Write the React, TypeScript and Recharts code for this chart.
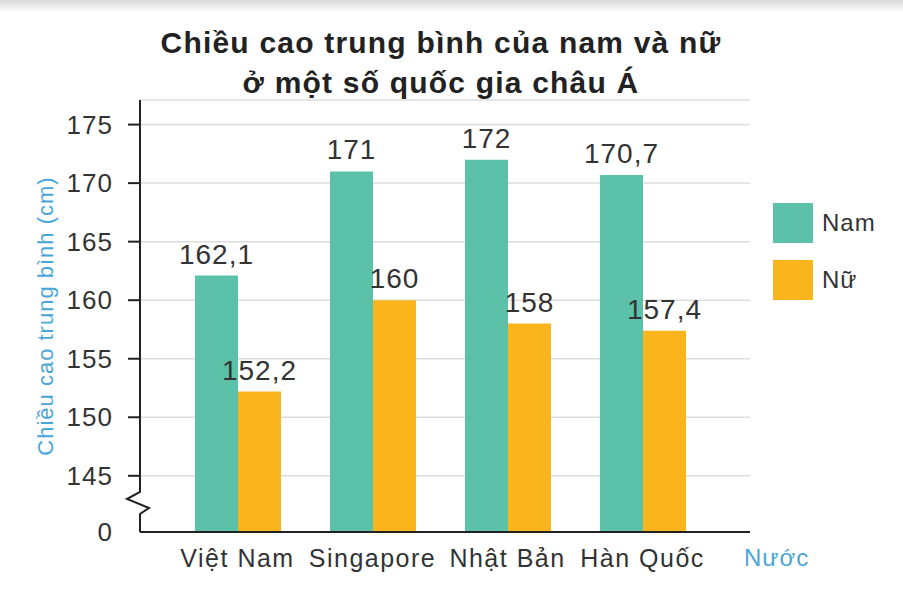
import React from 'react';
import { BarChart, Bar, XAxis, YAxis, CartesianGrid, LabelList } from 'recharts';

// du lieu doc tu hinh
const categories = ['Việt Nam', 'Singapore', 'Nhật Bản', 'Hàn Quốc'];
const namValues = [162.1, 171, 172, 170.7];
const nuValues = [152.2, 160, 158, 157.4];
const yTicks = [145, 150, 155, 160, 165, 170, 175];

// truc bi cat: gia tri 0 dat o day
const BREAK_BASE = 140.2;
const AXIS_TOP = 177.1;

const series = [
  { key: 'nam', name: 'Nam', color: '#5bc1a9' },
  { key: 'nu', name: 'Nữ', color: '#fab51c' },
];

const data = categories.map((name, i) => ({ name, nam: namValues[i], nu: nuValues[i] }));

const FONT = '"Liberation Sans", Arial, sans-serif';
const TICK_SIZE = 12;
const TICK_MARGIN = 15;

const fmt = (v: any) => String(v).replace('.', ',');

const YTick = (props: any) => {
  const { x, y, payload } = props;
  const axisX = x + TICK_SIZE + TICK_MARGIN;
  const textProps = { x, y, dy: 9, textAnchor: 'end' as const, fontSize: 26, letterSpacing: 1, fill: '#333', fontFamily: FONT };
  if (payload.value === BREAK_BASE) {
    return (
      <g>
        <rect x={axisX - 3} y={y - 44} width={6} height={34} fill="#fff" />
        <path
          d={`M${axisX},${y - 44} L${axisX},${y - 40} L${axisX - 13},${y - 33} L${axisX + 9},${y - 24} L${axisX},${y - 18} L${axisX},${y - 10}`}
          fill="none"
          stroke="#222"
          strokeWidth={2}
        />
        <text {...textProps}>0</text>
      </g>
    );
  }
  return (
    <g>
      <line x1={axisX - TICK_SIZE} x2={axisX} y1={y} y2={y} stroke="#222" strokeWidth={2} />
      <text {...textProps}>{payload.value}</text>
    </g>
  );
};

const XTick = (props: any) => {
  const { x, y, payload } = props;
  return (
    <text x={x} y={y} dy={33} textAnchor="middle" fontSize={25} letterSpacing={1.5} fill="#333" fontFamily={FONT}>
      {payload.value}
    </text>
  );
};

const App: React.FC = () => {
  return (
    <div style={{ position: 'absolute', left: 0, top: 0, width: 903, height: 590, background: '#fff', fontFamily: FONT }}>
      <div style={{ position: 'absolute', left: 0, top: 0, width: 903, height: 12, background: 'linear-gradient(#d8d8d8, #fff)' }} />
      <div
        style={{
          position: 'absolute',
          left: 0,
          top: 23,
          width: 882,
          textAlign: 'center',
          fontSize: 30,
          fontWeight: 'bold',
          letterSpacing: 1.2,
          lineHeight: '40px',
          color: '#222',
        }}
      >
        Chiều cao trung bình của nam và nữ
        <br />ở một số quốc gia châu Á
      </div>
      <BarChart
        width={903}
        height={590}
        data={data}
        margin={{ top: 100, right: 153, left: 30, bottom: 8 }}
        barGap={0}
        barSize={43}
      >
        <CartesianGrid horizontal vertical={false} stroke="#dcdcdc" strokeWidth={1.5} />
        <YAxis
          type="number"
          width={110}
          domain={[BREAK_BASE, AXIS_TOP]}
          ticks={[BREAK_BASE, ...yTicks]}
          interval={0}
          allowDataOverflow
          tickSize={TICK_SIZE}
          tickMargin={TICK_MARGIN}
          tickLine={false}
          axisLine={{ stroke: '#222', strokeWidth: 2 }}
          tick={<YTick />}
          label={{
            value: 'Chiều cao trung bình (cm)',
            angle: -90,
            position: 'insideLeft',
            offset: 15,
            style: { fill: '#4aa6d8', fontSize: 22, letterSpacing: 1, fontFamily: FONT, textAnchor: 'middle' },
          }}
        />
        <XAxis
          dataKey="name"
          height={50}
          padding={{ left: 30, right: 40 }}
          tickLine={false}
          tickSize={0}
          axisLine={{ stroke: '#222', strokeWidth: 2 }}
          tick={<XTick />}
          interval={0}
          label={{
            value: 'Nước',
            position: 'right',
            offset: -6,
            style: { fill: '#4aa6d8', fontSize: 24, letterSpacing: 1, fontFamily: FONT },
          }}
        />
        {series.map((s) => (
          <Bar key={s.key} dataKey={s.key} name={s.name} fill={s.color} isAnimationActive={false}>
            <LabelList
              dataKey={s.key}
              position="top"
              offset={12}
              formatter={fmt}
              style={{ fill: '#333', fontSize: 28, letterSpacing: 1, fontFamily: FONT }}
            />
          </Bar>
        ))}
      </BarChart>
      <div style={{ position: 'absolute', left: 773, top: 203 }}>
        {series.map((s) => (
          <div key={s.key} style={{ display: 'flex', alignItems: 'center', height: 40, marginBottom: 17 }}>
            <div style={{ width: 40, height: 40, background: s.color }} />
            <span style={{ marginLeft: 9, fontSize: 24, letterSpacing: 1, color: '#333' }}>{s.name}</span>
          </div>
        ))}
      </div>
    </div>
  );
};

export default App;
